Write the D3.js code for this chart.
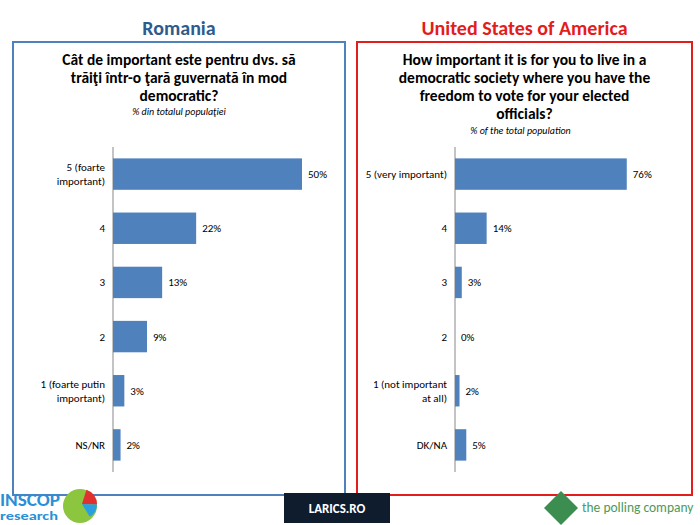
<!DOCTYPE html>
<html><head><meta charset="utf-8">
<script src="https://cdn.jsdelivr.net/npm/d3@7"></script>
<style>body{margin:0;background:#fff}text{font-family:Calibri,Carlito,"Liberation Sans",sans-serif}</style>
</head><body><div id="chart"></div>
<script>
const roCats = ["5 (foarte|important)", "4", "3", "2", "1 (foarte putin|important)", "NS/NR"];
const roVals = [50, 22, 13, 9, 3, 2];
const usCats = ["5 (very important)", "4", "3", "2", "1 (not important|at all)", "DK/NA"];
const usVals = [76, 14, 3, 0, 2, 5];

const svg = d3.select("#chart").append("svg").attr("width", 700).attr("height", 525);

const panels = [
  {title: "Romania", tcol: "#2e5b8c", box: "#4f81bd", x0: 13, x1: 345, axisX: 113, pxPer: 3.78,
   q: ["Cât de important este pentru dvs. să", "trăiţi într-o ţară guvernată în mod", "democratic?"], sub: "% din totalul populaţiei", subY: 115, subDx: 0,
   cats: roCats, vals: roVals},
  {title: "United States of America", tcol: "#e31c1c", box: "#e31c1c", x0: 357, x1: 692, axisX: 455, pxPer: 2.26,
   q: ["How important it is for you to live in a", "democratic society where you have the", "freedom to vote for your elected", "officials?"], sub: "%  of the total population", subY: 134, subDx: -4,
   cats: usCats, vals: usVals}
];

panels.forEach(p => {
  const cx = (p.x0 + p.x1) / 2;
  svg.append("text").attr("x", cx).attr("y", 35).attr("text-anchor", "middle")
    .attr("font-size", 20).attr("font-weight", "bold").attr("fill", p.tcol).text(p.title);
  svg.append("rect").attr("x", p.x0).attr("y", 42).attr("width", p.x1 - p.x0).attr("height", 453)
    .attr("fill", "none").attr("stroke", p.box).attr("stroke-width", 2);
  p.q.forEach((l, i) => svg.append("text").attr("x", cx).attr("y", 65 + i * 18).attr("text-anchor", "middle")
    .attr("font-size", 15.5).attr("font-weight", "bold").attr("fill", "#000").text(l));
  svg.append("text").attr("x", cx + p.subDx).attr("y", p.subY).attr("text-anchor", "middle")
    .attr("font-size", 10).attr("font-style", "italic").text(p.sub);

  const y = d3.scaleBand().domain(p.cats).range([147, 472]).paddingInner(0.42).paddingOuter(0.21);
  const x = d3.scaleLinear().domain([0, 100]).range([p.axisX, p.axisX + 100 * p.pxPer]);
  const g = svg.append("g");
  g.append("line").attr("x1", p.axisX).attr("x2", p.axisX).attr("y1", 147).attr("y2", 472).attr("stroke", "#888");
  p.cats.forEach((c, i) => {
    const yy = y(c), v = p.vals[i];
    g.append("rect").attr("x", x(0)).attr("y", yy).attr("width", x(v) - x(0)).attr("height", y.bandwidth()).attr("fill", "#4f81bd");
    g.append("text").attr("x", x(v) + 6).attr("y", yy + y.bandwidth() / 2 + 4).attr("font-size", 11).text(v + "%");
    const lines = c.split("|");
    lines.forEach((l, j) => g.append("text").attr("x", p.axisX - 8)
      .attr("y", yy + y.bandwidth() / 2 + 4 + (j - (lines.length - 1) / 2) * 14)
      .attr("text-anchor", "end").attr("font-size", 11).text(l));
  });
});

// logos
svg.append("text").attr("x", 0).attr("y", 506).attr("font-size", 17).attr("font-weight", "bold").attr("fill", "#2a8fd6").attr("textLength", 60).attr("lengthAdjust", "spacingAndGlyphs").text("INSCOP");
svg.append("text").attr("x", 0).attr("y", 520).attr("font-size", 12).attr("font-weight", "bold").attr("fill", "#2a8fd6").attr("textLength", 58).attr("lengthAdjust", "spacingAndGlyphs").text("research");
svg.append("circle").attr("cx", 80).attr("cy", 506).attr("r", 17).attr("fill", "#8cc63f");
svg.append("path").attr("transform", "translate(82,504)").attr("d", d3.arc()({innerRadius: 0, outerRadius: 15, startAngle: 0.3, endAngle: 1.6})).attr("fill", "#e03030");
svg.append("path").attr("transform", "translate(82,504)").attr("d", d3.arc()({innerRadius: 0, outerRadius: 15, startAngle: 1.6, endAngle: 2.6})).attr("fill", "#2aa0e0");
svg.append("rect").attr("x", 284).attr("y", 493).attr("width", 106).attr("height", 30).attr("fill", "#0f1c2e");
svg.append("text").attr("x", 337).attr("y", 513).attr("text-anchor", "middle").attr("font-size", 13).attr("font-weight", "bold").attr("fill", "#fff").text("LARICS.RO");
svg.append("path").attr("d", "M561,491 L578,508 L561,525 L544,508 Z").attr("fill", "#3b8d50");
svg.append("text").attr("x", 582).attr("y", 512).attr("font-size", 13.5).attr("fill", "#4a9a5a").text("the polling company");
</script></body></html>
